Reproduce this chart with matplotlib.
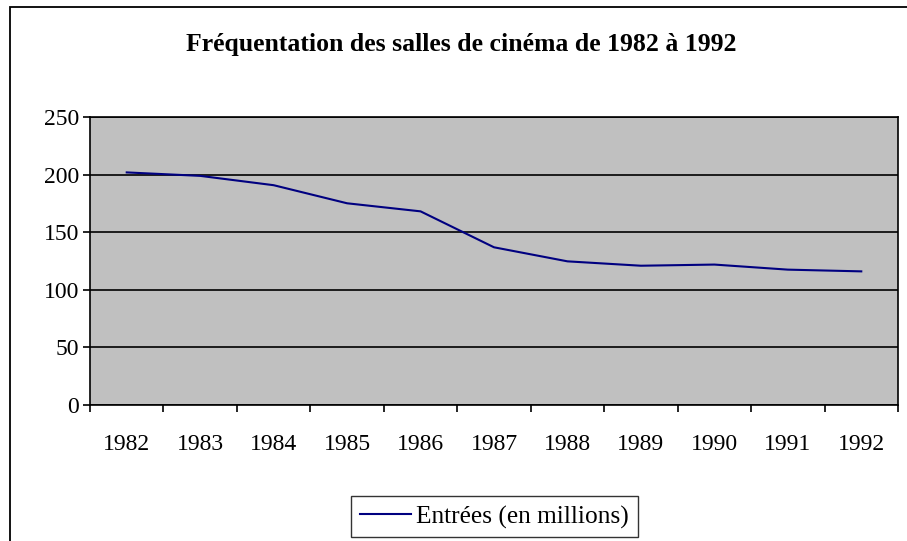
import matplotlib
matplotlib.use("Agg")
import matplotlib.pyplot as plt
from matplotlib.patches import Rectangle


years = ["1982", "1983", "1984", "1985", "1986", "1987",
         "1988", "1989", "1990", "1991", "1992"]
entrees = [201.9, 198.9, 190.8, 175.1, 168.1, 136.9,
           124.7, 120.9, 121.9, 117.5, 116.0]
y_ticks = [0, 50, 100, 150, 200, 250]

plt.rcParams["font.family"] = ["Liberation Serif", "DejaVu Serif"]

fig = plt.figure(figsize=(9.07, 5.41), dpi=100)
ax = fig.add_axes([90 / 907, 136 / 541, 808 / 907, 288 / 541])

# outer chart border (cropped on right/bottom in the reference)
fig.patches.append(Rectangle((10 / 907, -0.1), 1.2, 0.1 + 534 / 541,
                             transform=fig.transFigure, fill=False,
                             edgecolor="black", linewidth=1.3))

ax.set_facecolor("#c0c0c0")
x = list(range(len(years)))
ax.plot(x, entrees, color="#000080", linewidth=1.5,
        label="Entrées (en millions)")

ax.set_xlim(-0.5, len(years) - 0.5)
ax.set_ylim(0, 250)
ax.set_yticks(y_ticks)
ax.yaxis.grid(True, color="black", linewidth=1.2)
ax.set_axisbelow(True)

ax.set_xticks([i - 0.5 for i in range(len(years) + 1)])
ax.set_xticklabels([])
ax.set_xticks(x, minor=True)
ax.set_xticklabels(years, minor=True)
ax.tick_params(axis="x", which="major", length=5, width=1.2, direction="out")
ax.tick_params(axis="x", which="minor", length=0, pad=21, labelsize=17)
ax.tick_params(axis="y", length=5, width=1.2, pad=3, labelsize=17)

for s in ax.spines.values():
    s.set_linewidth(1.2)

fig.text(0.508, 0.917, "Fréquentation des salles de cinéma de 1982 à 1992",
         ha="center", va="center", fontsize=18.5, fontweight="bold")

leg = fig.legend(loc="center", bbox_to_anchor=(0.545, 0.0444), fontsize=18.3,
                 frameon=True, fancybox=False, handlelength=2.0,
                 handletextpad=0.2, borderpad=0.35, borderaxespad=0)
leg.get_frame().set_edgecolor("black")
leg.get_frame().set_linewidth(1.0)

fig.savefig("out.png", dpi=100)
